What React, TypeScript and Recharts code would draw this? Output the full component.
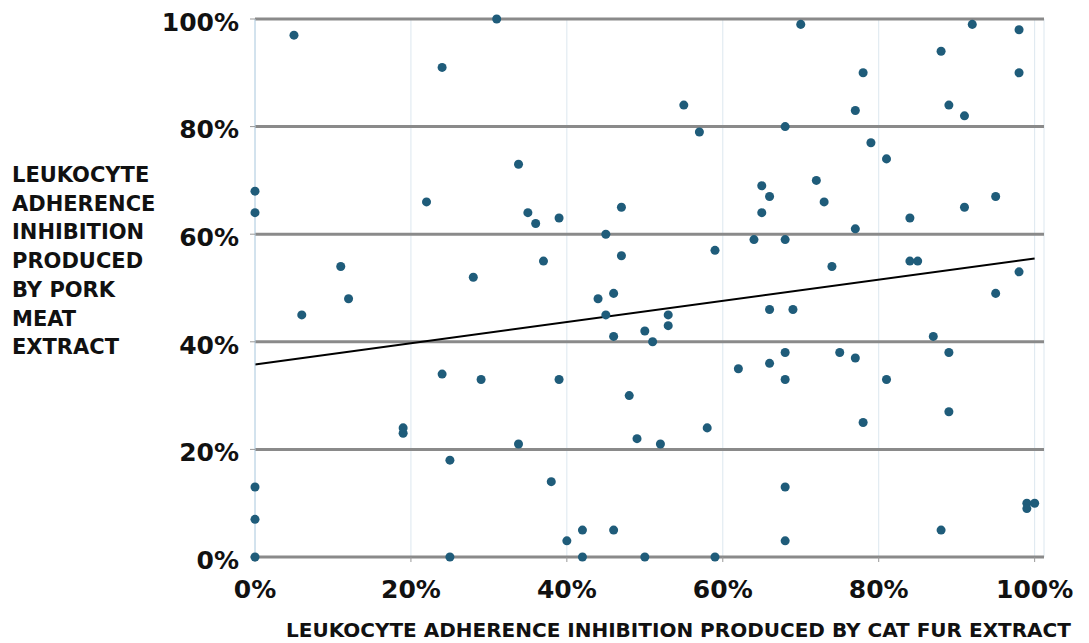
import React from "react";
import {
  CartesianGrid,
  ReferenceLine,
  Scatter,
  ScatterChart,
  XAxis,
  YAxis,
  ZAxis,
} from "recharts";

// Leukocyte adherence inhibition (%) — cat fur extract (x) vs pork meat extract (y)
const catFur = [
  0, 0, 0, 0, 0, 5, 6, 11, 12,
  19, 19, 22, 24, 24, 25, 25, 28, 29, 31,
  33.8, 33.8, 35, 36, 37, 38, 39, 39, 40,
  42, 42, 44, 45, 45, 46, 46, 46, 47, 47, 48, 49,
  50, 50, 51, 52, 53, 53, 55, 57, 58, 59, 59,
  62, 64, 65, 65, 66, 66, 66, 68, 68, 68, 68, 68, 68, 69, 70,
  72, 73, 74, 75, 77, 77, 77, 78, 78, 79,
  81, 81, 84, 84, 85, 87, 88, 88, 89, 89, 89,
  91, 91, 92, 95, 95, 98, 98, 98, 99, 99, 100,
];
const porkMeat = [
  68, 64, 13, 7, 0, 97, 45, 54, 48,
  24, 23, 66, 91, 34, 18, 0, 52, 33, 100,
  73, 21, 64, 62, 55, 14, 63, 33, 3,
  5, 0, 48, 60, 45, 49, 41, 5, 65, 56, 30, 22,
  42, 0, 40, 21, 45, 43, 84, 79, 24, 57, 0,
  35, 59, 69, 64, 67, 46, 36, 80, 59, 38, 33, 13, 3, 46, 99,
  70, 66, 54, 38, 83, 61, 37, 90, 25, 77,
  74, 33, 63, 55, 55, 41, 94, 5, 84, 38, 27,
  82, 65, 99, 67, 49, 98, 90, 53, 10, 9, 10,
];
const trendStart = { x: 0, y: 35.8 };
const trendEnd = { x: 100, y: 55.5 };
const ticks = [0, 20, 40, 60, 80, 100];

const points = catFur.map((x, i) => ({ x, y: porkMeat[i] }));

const TICK_FONT = "'DejaVu Sans', sans-serif";

function YTick({ x, y, payload }: any) {
  return (
    <text x={x} y={y} dy={11.7} textAnchor="end" fontFamily={TICK_FONT} fontWeight={700} fontSize={25} fill="#111">
      {payload.value}%
    </text>
  );
}

function XTick({ x, y, payload }: any) {
  return (
    <text x={x} y={y} dy={36} textAnchor="middle" fontFamily={TICK_FONT} fontWeight={700} fontSize={25} fill="#111">
      {payload.value}%
    </text>
  );
}

export default function App() {
  return (
    <div style={{ position: "absolute", left: 0, top: 0, width: 1089, height: 643, background: "#fff" }}>
      <ScatterChart width={1089} height={643} margin={{ top: 19, right: 45, bottom: 36, left: 165 }}>
        <CartesianGrid horizontal={false} stroke="#dce7ef" strokeWidth={1} />
        <CartesianGrid vertical={false} stroke="#8a8a8a" strokeWidth={3} />
        <XAxis
          type="number"
          dataKey="x"
          domain={[0, 101.2]}
          ticks={ticks}
          height={50}
          axisLine={false}
          tickLine={{ stroke: "#999" }}
          tickSize={5}
          tickMargin={0}
          tick={<XTick />}
        />
        <YAxis
          type="number"
          dataKey="y"
          domain={[0, 100]}
          ticks={ticks}
          width={90}
          axisLine={{ stroke: "#b9d2e4" }}
          tickLine={{ stroke: "#999" }}
          tickSize={5}
          tickMargin={11}
          tick={<YTick />}
        />
        <ZAxis range={[40, 40]} />
        <ReferenceLine segment={[trendStart, trendEnd]} stroke="#000" strokeWidth={2} />
        <Scatter data={points} fill="#1f5c7a" isAnimationActive={false} />
      </ScatterChart>
      <div
        style={{
          position: "absolute",
          left: 12,
          top: 161,
          fontFamily: TICK_FONT,
          fontWeight: 700,
          fontSize: 21,
          lineHeight: "28.7px",
          color: "#111",
          whiteSpace: "nowrap",
        }}
      >
        LEUKOCYTE
        <br />
        ADHERENCE
        <br />
        INHIBITION
        <br />
        PRODUCED
        <br />
        BY PORK
        <br />
        MEAT
        <br />
        EXTRACT
      </div>
      <div
        style={{
          position: "absolute",
          left: 286,
          top: 620,
          fontFamily: TICK_FONT,
          fontWeight: 700,
          fontSize: 20,
          lineHeight: "20px",
          color: "#111",
          whiteSpace: "nowrap",
        }}
      >
        LEUKOCYTE ADHERENCE INHIBITION PRODUCED BY CAT FUR EXTRACT
      </div>
    </div>
  );
}
